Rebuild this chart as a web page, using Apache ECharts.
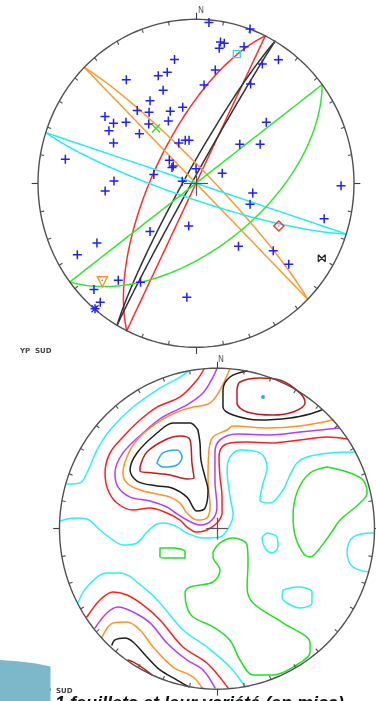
<!DOCTYPE html>
<html><head><meta charset="utf-8">
<script src="https://cdn.jsdelivr.net/npm/echarts@6.0.0/dist/echarts.min.js"></script>
<style>html,body{margin:0;padding:0;background:#fff;overflow:hidden}#c{width:376px;height:701px}</style>
</head><body><div id="c"></div>
<script>
// ===== Top net: planes as [dip direction, dip] (Schmidt net, lower hemisphere) =====
const planesRed    = [[296,68],[296,90]];
const planesBlack  = [[300,84],[300,88]];
const planesOrange = [[45,83],[45,90]];
const planesCyan   = [[198,82],[198,90]];
const planesGreen  = [[143,57],[143,90]];
// poles, projected net coordinates (net radius = 100)
const poles = [[8.2,98.0],[34.2,94.1],[15.5,86.2],[17.9,85.4],[14.7,82.3],[30.4,83.3],[-13.6,75.5],[52.2,75.4],[42.0,72.7],[12.2,69.1],
 [-18.2,67.7],[-23.9,65.6],[-44.1,63.1],[34.6,60.5],[5.1,59.9],[-20.8,56.8],[-29.1,50.3],[-8.4,46.4],[-37.2,44.4],[-29.7,43.3],
 [-16.3,43.9],[-57.6,40.7],[-52.2,36.6],[-44.3,37.2],[-29.9,36.2],[-17.5,38.0],[44.5,37.2],[-55.1,32.1],[-35.8,30.2],[27.7,23.8],
 [40.6,23.8],[-52.2,24.5],[-10.9,24.6],[-6.8,26.3],[-4.4,26.3],[-82.7,14.7],[-16.9,14.0],[-15.2,9.6],[-14.4,10.5],[-26.7,5.4],
 [0,8.9],[16.6,6.2],[-8.7,1.3],[-51.9,1.4],[-57.5,-4.7],[91.8,-1.5],[35.9,-5.9],[34.2,-12.7],[81.1,-21.6],[-4.6,-26.0],
 [-29.1,-29.4],[-62.7,-36.4],[-75.1,-43.5],[26.9,-38.4],[48.9,-41.1],[58.7,-49.4],[-49.2,-59.1],[-35.1,-60.3],[-64.6,-64.8],[-60.6,-72.6],
 [-63.9,-76.5],[-5.8,-69.5]];
const markSquare  = [[25.8,78.8]];
const markCross   = [[-25.3,33.5]];
const markDiamond = [[52.4,-26.0]];
const markTri     = [[-59.3,-60.0]];
const markBowtie  = [[79.6,-45.7]];
const markStar    = [[-63.9,-76.5]];

// ===== Bottom net: density contour polylines (net radius = 100) =====
const cyan1 = [[-18,98.2],[-23.5,94.5],[-38.1,86.4],[-53.3,75.8],[-67.9,61.5],[-76.2,49.0],[-82.6,34.7],[-87.0,28.5],[-95.3,27.9]];
const cyan2 = [[-99.7,4.8],[-90.2,6.7],[-82.6,6.0],[-74.3,-0.8],[-66.0,-7.0],[-59.7,-10.2],[-50.8,-8.9],[-44.5,-2.1],[-38.1,2.9],[-33.0,3.6],[-25.4,1.1],[-19.1,-2.7],[-8.9,-5.8],[1.9,-5.2],[8.3,2.3],[10.2,8.5],[8.3,19.7],[6.4,36.6],[8.3,44.7],[14.6,49.0],[27.3,47.2],[31.8,38.4],[28.6,26.0],[27.3,17.9],[33.7,16.0],[41.9,24.1],[46.4,33.5],[50.8,41.0],[57.2,44.7],[71.8,47.2],[87.6,47.8]];
const cyan3 = [[31.8,-2.7],[38.1,-5.2],[38.7,-11.4],[34.9,-15.1],[30.5,-12.0],[28.6,-5.8],[31.8,-2.7]];
const cyan4 = [[99.7,-2.7],[86.4,-5.2],[82.6,-15.1],[86.4,-23.9],[96.5,-27.0]];
const cyan5 = [[41.9,-38.2],[50.8,-36.3],[60.3,-39.4],[60.3,-46.3],[52.7,-49.4],[44.5,-46.3],[41.3,-42.5],[41.9,-38.2]];
const cyan6 = [[-88.3,-46.3],[-82.6,-36.3],[-69.9,-27.6],[-61.6,-27.6],[-47.0,-36.3],[-36.2,-46.3],[-21.6,-63.1],[-6.4,-73.7],[8.3,-86.2],[17.8,-98.6]];
const red1 = [[-8.3,99.5],[-12.7,92.7],[-23.5,82.1],[-38.1,75.8],[-48.9,67.7],[-59.7,57.1],[-67.9,47.2],[-71.1,34.7],[-69.2,24.1],[-63.5,16.0],[-53.3,11.6],[-42.5,12.9],[-31.8,9.8],[-23.5,5.4],[-19.1,1.1],[-12.7,-2.1],[-6.4,-0.8],[0,3.6],[3.2,9.8],[3.2,19.7],[1.9,32.2],[1.3,44.7],[3.2,50.9],[8.3,53.4],[19.1,54.0],[33.7,53.4],[52.7,55.3],[69.9,57.1],[82.6,55.9]];
const red2 = [[-82.6,-55.0],[-74.3,-44.4],[-66.0,-39.4],[-57.2,-41.3],[-47.0,-47.5],[-36.2,-56.9],[-21.6,-73.7],[-6.4,-83.7],[7.0,-99.2]];
const mag1 = [[0,100],[-2.5,94.5],[-8.9,84.5],[-19.1,77.1],[-34.3,69.6],[-47.0,59.6],[-59.7,47.2],[-64.8,34.7],[-62.9,26.0],[-55.2,19.7],[-42.5,17.3],[-31.8,13.5],[-25.4,9.2],[-19.1,5.4],[-10.8,2.3],[-3.2,5.4],[0,13.5],[-1.3,30.3],[-1.3,47.2],[1.9,55.3],[12.7,59.0],[33.7,58.4],[52.7,60.2],[77.5,62.7]];
const mag2 = [[-77.5,-61.9],[-69.9,-52.5],[-62.9,-48.8],[-53.3,-51.9],[-42.5,-58.7],[-31.8,-71.2],[-19.1,-81.8],[-8.9,-88.0],[-1.3,-99.2]];
const orange1 = [[8.3,99.8],[1.9,86.4],[-4.4,78.3],[-15.2,75.8],[-25.4,72.7],[-38.1,65.9],[-50.8,55.3],[-57.2,44.7],[-59.7,34.7],[-57.2,28.5],[-48.9,24.1],[-38.1,21.6],[-29.8,19.7],[-23.5,16.0],[-19.1,9.8],[-12.7,5.4],[-6.4,6.7],[-4.4,13.5],[-5.7,30.3],[-5.1,49.0],[-2.5,57.1],[6.4,61.5],[10.2,64.0],[31.8,62.7],[52.7,64.0],[73.7,67.7]];
const orange2 = [[-73.0,-67.5],[-66.0,-58.7],[-57.2,-58.1],[-48.9,-63.1],[-40.6,-73.7],[-27.9,-86.2],[-15.2,-92.4],[-9.5,-99.2]];
const black1 = [[-12.1,61.5],[-17.1,65.9],[-27.9,65.9],[-38.1,59.6],[-50.8,47.2],[-55.2,36.6],[-50.8,29.7],[-38.1,26.6],[-28.6,25.4],[-19.1,19.7],[-12.7,11.0],[-7.6,12.8],[-5.7,24.1],[-7.6,32.2],[-10.2,42.8],[-10.8,53.4],[-12.1,61.5]];
const black2 = [[19.1,98.2],[8.3,94.5],[3.8,86.4],[3.8,75.8],[10.2,70.8],[27.3,67.7],[46.4,69.0],[59.1,71.5],[66.7,74.1]];
const black3 = [[-66.7,-72.5],[-64.8,-69.3],[-58.4,-68.1],[-53.3,-70.6],[-44.5,-79.9],[-36.2,-88.0],[-25.4,-94.3],[-17.8,-98.6]];
const dred1 = [[-48.9,38.4],[-44.5,47.8],[-31.8,55.9],[-23.5,57.8],[-17.1,55.3],[-15.9,40.9],[-14.6,31.6],[-19.1,31.0],[-29.8,33.5],[-40.6,34.7],[-48.9,35.9],[-48.9,38.4]];
const dred2 = [[12.7,86.4],[14.6,91.4],[27.3,93.9],[40.0,92.6],[52.7,84.5],[55.9,78.3],[48.3,72.7],[35.6,70.8],[19.1,72.7],[12.7,78.3],[12.7,86.4]];
const dred3 = [[-56.5,-81.8],[-53.3,-83.0],[-47.0,-86.8],[-41.3,-91.1]];
const lblue1 = [[-38.1,40.9],[-34.3,47.2],[-25.4,49.0],[-22.2,44.7],[-25.4,39.7],[-34.3,38.4],[-38.1,40.9]];
const lblueDot = [[29.2,82.1]];
const green1 = [[-36.2,-12.0],[-27.9,-12.0],[-20.3,-14.5],[-20.3,-18.3],[-31.8,-18.3],[-36.2,-17.6],[-36.2,-12.0]];
const green2 = [[-2.5,-14.5],[1.9,-8.9],[10.2,-5.8],[19.1,-10.2],[19.7,-21.4],[19.1,-36.3],[22.9,-46.3],[41.9,-58.7],[59.1,-71.2],[59.1,-76.8],[48.3,-86.2],[35.6,-91.1],[22.9,-91.1],[14.6,-81.8],[8.3,-69.6],[-2.5,-61.2],[-15.2,-55.0],[-19.1,-48.8],[-20.3,-40.1],[-17.1,-36.3],[-2.5,-33.2],[1.9,-25.7],[-2.5,-17.6],[-2.5,-14.5]];
const green3 = [[69.9,38.4],[84.5,34.7],[92.7,30.3],[95.3,22.2],[90.8,16.0],[78.1,5.4],[73.7,-0.8],[65.4,-12.0],[59.1,-17.6],[54.6,-15.1],[49.5,-3.9],[48.3,8.5],[51.4,24.1],[59.1,34.7],[69.9,38.4]];

// net rim ticks (azimuth, degrees)
const tickAz = [10,20,30,40,50,60,70,80,100,110,120,130,140,150,160,170,190,200,210,220,230,240,250,260,280,290,300,310,320,330,340,350];
const cardinalAz = [0,90,180,270];

// ===== helpers =====
const rad = Math.PI/180;
function greatCircle(dd, dip){
  const s=(dd-90)*rad, d=dd*rad, de=dip*rad;
  const S=[Math.sin(s),Math.cos(s),0], D=[Math.cos(de)*Math.sin(d),Math.cos(de)*Math.cos(d),Math.sin(de)];
  const pts=[];
  for(let t=0;t<=180;t+=1.5){
    const c=Math.cos(t*rad), sn=Math.sin(t*rad);
    const e=c*S[0]+sn*D[0], n=c*S[1]+sn*D[1], z=Math.max(0,c*S[2]+sn*D[2]);
    const k=100/Math.sqrt(1+z); pts.push([e*k,n*k]);
  }
  return pts;
}
function rim(){const p=[];for(let a=0;a<=360;a+=2)p.push([100*Math.sin(a*rad),100*Math.cos(a*rad)]);return p;}
function seg(a,r1,r2){return [[r1*Math.sin(a*rad),r1*Math.cos(a*rad)],[r2*Math.sin(a*rad),r2*Math.cos(a*rad)]];}
function line(gi,pts,color,width,smooth,z){
  return {type:'line',xAxisIndex:gi,yAxisIndex:gi,data:pts,symbol:'none',showSymbol:false,smooth:smooth||false,
    clip:false,silent:true,animation:false,z:z||2,lineStyle:{color:color,width:width,cap:'round',join:'round'}};
}
function segs(gi,list,color,width){
  return {type:'lines',coordinateSystem:'cartesian2d',xAxisIndex:gi,yAxisIndex:gi,polyline:false,clip:false,silent:true,animation:false,z:3,
    lineStyle:{color:color,width:width,opacity:1},data:list.map(c=>({coords:c}))};
}
function marks(gi,pts,symbol,size,color,width,fill,z){
  return {type:'scatter',xAxisIndex:gi,yAxisIndex:gi,data:pts,symbol:symbol,symbolSize:size,silent:true,animation:false,z:z||5,
    itemStyle:{color:fill||'rgba(0,0,0,0)',borderColor:color,borderWidth:width,opacity:1}};
}
const PLUS='path://M0,5L10,5M5,0L5,10';
const XMARK='path://M0,0L10,10M10,0L0,10';
const TRI='path://M0,0L10,0L5,8Z';
const BOWTIE='path://M0,0L0,10M10,0L10,10M0,0L10,10M10,0L0,10';

const series=[];
function netFrame(gi, crossLen, nOffset){
  series.push(line(gi,rim(),'#505050',1.4,false,4));
  series.push(segs(gi,tickAz.map(a=>seg(a,100,97.6)),'#505050',1.1));
  series.push(segs(gi,cardinalAz.map(a=>seg(a,100,104)),'#3a3a3a',1.1));
  series.push(segs(gi,[[[-crossLen,0],[crossLen,0]],[[0,-crossLen],[0,crossLen]]],'#555',1.2));
  series.push({type:'scatter',xAxisIndex:gi,yAxisIndex:gi,data:[[0,100]],symbolSize:0,silent:true,animation:false,
    label:{show:true,formatter:'N',position:'top',distance:3,offset:nOffset,fontSize:8,color:'#333',fontFamily:'DejaVu Sans'}});
}
// top net
netFrame(0,7.6,[5,-1]);
const gcols=[[planesRed,'#ff2e2e'],[planesBlack,'#333333'],[planesOrange,'#ff9a30'],[planesCyan,'#22eef0'],[planesGreen,'#33e633']];
gcols.forEach(([pl,col])=>pl.forEach(p=>series.push(line(0,greatCircle(p[0],p[1]),col,1.5,false,2))));
series.push(marks(0,poles,PLUS,9,'#1f1fff',1.5));
series.push(marks(0,markStar,XMARK,7,'#1f1fff',1.2));
series.push(marks(0,markSquare,'rect',7,'#22e0f0',1.3));
series.push(marks(0,markCross,XMARK,8,'#44dd44',1.5));
series.push(marks(0,markDiamond,'diamond',10,'#ff3030',1.4));
series.push(marks(0,markTri,TRI,10,'#ff9030',1.4));
series.push(marks(0,markBowtie,BOWTIE,7,'#222',1.2));
series.push(marks(0,markSquare.concat(markDiamond,[[markTri[0][0],markTri[0][1]+0.8]]),'circle',1.6,'#888',0,'#888'));

// bottom net
netFrame(1,6.8,[4,-1]);
const contourSets=[
  [[cyan1,cyan2,cyan3,cyan4,cyan5,cyan6],'#2ff0f2'],
  [[red1,red2],'#ff1e1e'],
  [[mag1,mag2],'#b23cff'],
  [[orange1,orange2],'#ff9224'],
  [[black1,black2,black3],'#1e1e1e'],
  [[dred1,dred2,dred3],'#c81a1a'],
  [[lblue1],'#2aa8f0'],
  [[green1,green2,green3],'#22e022']
];
contourSets.forEach(([ls,col])=>ls.forEach(l=>series.push(line(1,l,col,1.5,0.35,2))));
series.push(marks(1,lblueDot,'circle',4,'#2aa8f0',0,'#2aa8f0'));

const option={
  backgroundColor:'#ffffff',
  animation:false,
  grid:[{left:38,top:19.3,width:316,height:328},{left:59.5,top:368.2,width:315,height:321}],
  xAxis:[{gridIndex:0,type:'value',min:-100,max:100,show:false},{gridIndex:1,type:'value',min:-100,max:100,show:false}],
  yAxis:[{gridIndex:0,type:'value',min:-100,max:100,show:false},{gridIndex:1,type:'value',min:-100,max:100,show:false}],
  series:series,
  graphic:[
    {type:'text',x:20,y:351,style:{text:'YP  SUD',font:'bold 7px "DejaVu Sans"',fill:'#444',verticalAlign:'middle'}},
    {type:'text',x:41,y:691.5,style:{text:'YP  SUD',font:'bold 7px "DejaVu Sans"',fill:'#444',verticalAlign:'middle'}},
    {type:'text',x:55,y:695.5,z:50,style:{text:'1 feuillets et leur variété (en mica)',font:'italic bold 18px "Liberation Sans"',fill:'#111',verticalAlign:'top'}},
    {type:'polygon',z:100,shape:{points:[[0,660],[20,661.5],[36,663.5],[50.5,666.5],[50.5,701],[0,701]]},style:{fill:'#7db7ca'}}
  ]
};
const chart=echarts.init(document.getElementById('c'),null,{renderer:'canvas'});
chart.setOption(option);
</script></body></html>
